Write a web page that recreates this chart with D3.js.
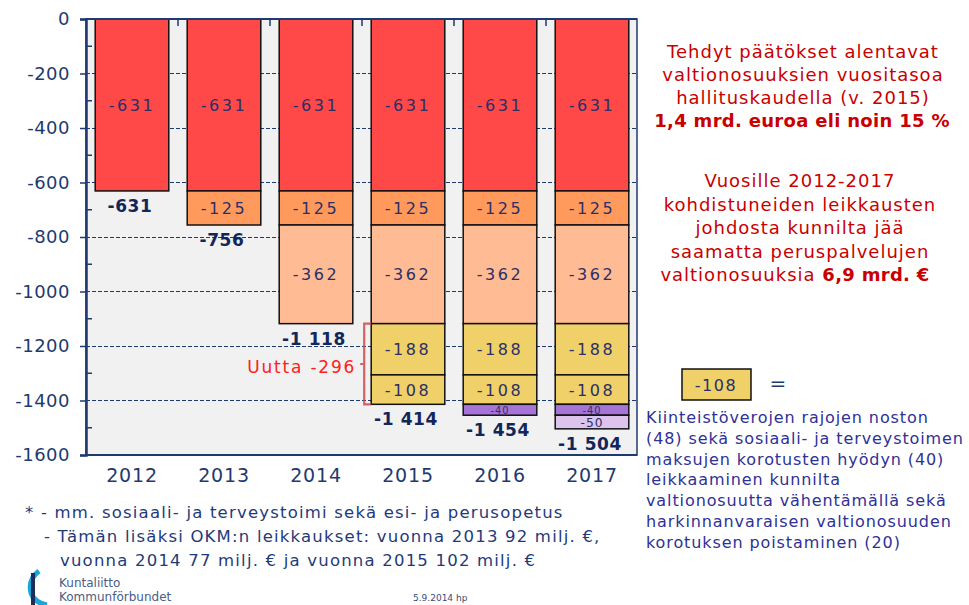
<!DOCTYPE html>
<html>
<head>
<meta charset="utf-8">
<script src="https://cdn.jsdelivr.net/npm/d3@7"></script>
<style>
  body { margin: 0; background: #fff; }
  svg { display: block; font-family: "DejaVu Sans", Verdana, sans-serif; }
</style>
</head>
<body>
<svg id="chart" width="969" height="605"></svg>
<script>
// categories
var years = ['2012', '2013', '2014', '2015', '2016', '2017'];

// stacked cut segments (milj. €), top to bottom
var cut631 = [-631, -631, -631, -631, -631, -631];
var cut125 = [0, -125, -125, -125, -125, -125];
var cut362 = [0, 0, -362, -362, -362, -362];
var cut188 = [0, 0, 0, -188, -188, -188];
var cut108 = [0, 0, 0, -108, -108, -108];
var cut40 = [0, 0, 0, 0, -40, -40];
var cut50 = [0, 0, 0, 0, 0, -50];

var seriesKeys = ['s631', 's125', 's362', 's188', 's108', 's40', 's50'];
var seriesColors = ['#ff4848', '#ff9a5c', '#ffbb94', '#f0d068', '#f0d068', '#a673d6', '#dcc4ec'];
var seriesValues = [cut631, cut125, cut362, cut188, cut108, cut40, cut50];

var yTicks = [0, -200, -400, -600, -800, -1000, -1200, -1400, -1600];
var minorTicks = [-100, -300, -500, -700, -900, -1100, -1300, -1500];

var newCutKeys = ['s188', 's108'];   // "Uutta" bracket
var newCutYear = '2015';

var rightNote1 = ['Tehdyt päätökset  alentavat', 'valtionosuuksien vuositasoa', 'hallituskaudella (v. 2015)'];
var rightNote1Bold = '1,4 mrd. euroa eli noin 15 %';
var rightNote2 = ['Vuosille 2012-2017', 'kohdistuneiden leikkausten', 'johdosta kunnilta jää', 'saamatta peruspalvelujen'];
var legendLines = ['Kiinteistöverojen rajojen noston', '(48) sekä sosiaali- ja terveystoimen',
  'maksujen korotusten hyödyn (40)', 'leikkaaminen kunnilta', 'valtionosuutta vähentämällä sekä',
  'harkinnanvaraisen valtionosuuden', 'korotuksen  poistaminen (20)'];
var footLines = ['* - mm. sosiaali- ja terveystoimi sekä esi- ja perusopetus',
  '- Tämän lisäksi  OKM:n leikkaukset: vuonna 2013 92 milj. €,',
  'vuonna 2014 77 milj. € ja vuonna 2015  102 milj. €'];

var navy = '#1f3a6e';

// table for d3.stack
var table = years.map(function (y, i) {
  var row = { year: y };
  seriesKeys.forEach(function (k, j) { row[k] = seriesValues[j][i]; });
  return row;
});

var fi = d3.formatLocale({ decimal: ',', thousands: ' ', grouping: [3], currency: ['', ' €'], minus: '-' });
var fmtAxis = fi.format('d');
var fmtTotal = fi.format(',d');

var svg = d3.select('#chart');

var plot = { left: 86, right: 637, top: 19, bottom: 455 };

var xScale = d3.scaleBand()
  .domain(years)
  .range([plot.left, plot.left + 552])
  .paddingInner(0.2)
  .paddingOuter(0.1);

var yScale = d3.scaleLinear()
  .domain([-1600, 0])
  .range([plot.bottom, plot.top]);

// plot background
svg.append('rect')
  .attr('x', plot.left)
  .attr('y', plot.top)
  .attr('width', plot.right - plot.left)
  .attr('height', plot.bottom - plot.top)
  .attr('fill', '#f1f1f1')
  .attr('stroke', navy)
  .attr('stroke-width', 1.5);

// dashed grids
svg.append('g').attr('class', 'yGrids')
  .selectAll('line')
  .data(yTicks.slice(1, -1))
  .join('line')
  .attr('x1', plot.left)
  .attr('x2', plot.right)
  .attr('y1', function (d) { return yScale(d); })
  .attr('y2', function (d) { return yScale(d); })
  .attr('stroke', navy)
  .attr('stroke-width', 1)
  .attr('stroke-dasharray', '4,2')
  .style('shape-rendering', 'crispEdges');

// small ticks between categories at top
var bandEdges = years.slice(1).map(function (y) { return xScale(y) - xScale.step() * xScale.paddingInner() / 2; });
svg.append('g')
  .selectAll('line')
  .data(bandEdges)
  .join('line')
  .attr('x1', function (d) { return d; })
  .attr('x2', function (d) { return d; })
  .attr('y1', plot.top)
  .attr('y2', plot.top + 7)
  .attr('stroke', navy)
  .attr('stroke-width', 1.5);

// stacked bars
var stack = d3.stack().keys(seriesKeys).offset(d3.stackOffsetDiverging);
var layers = stack(table);

var barGroup = svg.append('g').attr('class', 'bars');
layers.forEach(function (layer, li) {
  var segs = layer.filter(function (d) { return d[1] - d[0] !== 0; });
  var g = barGroup.append('g');
  g.selectAll('rect')
    .data(segs)
    .join('rect')
    .attr('x', function (d) { return xScale(d.data.year); })
    .attr('y', function (d) { return yScale(d[1]); })
    .attr('width', xScale.bandwidth())
    .attr('height', function (d) { return yScale(d[0]) - yScale(d[1]); })
    .attr('fill', seriesColors[li])
    .attr('stroke', '#111')
    .attr('stroke-width', 1.5);

  g.selectAll('text')
    .data(segs)
    .join('text')
    .attr('x', function (d) { return xScale(d.data.year) + xScale.bandwidth() / 2; })
    .attr('y', function (d) { return (yScale(d[0]) + yScale(d[1])) / 2 + 0.5; })
    .attr('text-anchor', 'middle')
    .attr('dominant-baseline', 'central')
    .attr('fill', '#2a2f66')
    .style('font-size', function (d) {
      var h = yScale(d[0]) - yScale(d[1]);
      return Math.min(16, h * 0.9) + 'px';
    })
    .style('letter-spacing', function (d) {
      var h = yScale(d[0]) - yScale(d[1]);
      return h > 16 ? '2.5px' : '1px';
    })
    .text(function (d) { return fmtAxis(d[0] - d[1]); });
});

// totals under bars
var totals = years.map(function (y, i) {
  return { year: y, value: d3.sum(seriesValues, function (s) { return s[i]; }) };
});
svg.append('g')
  .selectAll('text')
  .data(totals)
  .join('text')
  .attr('x', function (d) { return xScale(d.year) + xScale.bandwidth() / 2 - 2; })
  .attr('y', function (d) { return yScale(d.value) + 15; })
  .attr('text-anchor', 'middle')
  .attr('dominant-baseline', 'central')
  .attr('fill', '#13265a')
  .style('font-size', '17px')
  .style('font-weight', 'bold')
  .style('letter-spacing', '0.6px')
  .text(function (d) { return fmtTotal(d.value); });

// y axis
var yAxis = d3.axisLeft(yScale)
  .tickValues(yTicks)
  .tickFormat(fmtAxis)
  .tickSize(6)
  .tickPadding(10);
var yAxisG = svg.append('g')
  .attr('transform', 'translate(' + plot.left + ',0)')
  .call(yAxis);
yAxisG.select('.domain').attr('stroke', navy).attr('stroke-width', 2.5);
yAxisG.selectAll('.tick line').attr('stroke', navy).attr('stroke-width', 1.5);
yAxisG.selectAll('.tick text')
  .attr('fill', navy)
  .style('font-family', '"DejaVu Sans", sans-serif')
  .style('font-size', '18px')
  .style('letter-spacing', '0.5px');

// minor ticks pointing inward
svg.append('g')
  .selectAll('line')
  .data(minorTicks)
  .join('line')
  .attr('x1', plot.left)
  .attr('x2', plot.left + 6)
  .attr('y1', function (d) { return yScale(d); })
  .attr('y2', function (d) { return yScale(d); })
  .attr('stroke', navy)
  .attr('stroke-width', 1.5);

// bottom + top frame lines
svg.append('line')
  .attr('x1', plot.left).attr('x2', plot.right)
  .attr('y1', plot.bottom).attr('y2', plot.bottom)
  .attr('stroke', navy).attr('stroke-width', 2);
svg.append('line')
  .attr('x1', plot.left).attr('x2', plot.right)
  .attr('y1', plot.top).attr('y2', plot.top)
  .attr('stroke', navy).attr('stroke-width', 2);

// x axis labels
var xAxis = d3.axisBottom(xScale).tickSize(0).tickPadding(14);
var xAxisG = svg.append('g')
  .attr('transform', 'translate(0,' + plot.bottom + ')')
  .call(xAxis);
xAxisG.select('.domain').remove();
xAxisG.selectAll('.tick text')
  .attr('fill', navy)
  .style('font-family', '"DejaVu Sans", sans-serif')
  .style('font-size', '19px')
  .style('letter-spacing', '0.8px');

// "Uutta" bracket on 2015
var newLayers = layers.filter(function (l) { return newCutKeys.indexOf(l.key) >= 0; });
var yrIdx = years.indexOf(newCutYear);
var newTop = d3.max(newLayers, function (l) { return l[yrIdx][1]; });
var newBottom = d3.min(newLayers, function (l) { return l[yrIdx][0]; });
var newSum = d3.sum(newLayers, function (l) { return l[yrIdx][0] - l[yrIdx][1]; });
var bx = xScale(newCutYear) - 7;
var by1 = yScale(newTop), by2 = yScale(newBottom), bm = (by1 + by2) / 2;
svg.append('path')
  .attr('d', 'M' + (bx + 7) + ',' + by1 + 'H' + bx + 'V' + by2 + 'H' + (bx + 7) +
    'M' + (bx - 4) + ',' + bm + 'H' + bx)
  .attr('fill', 'none')
  .attr('stroke', '#d04848')
  .attr('stroke-width', 2.2)
  .style('opacity', 0.85);
svg.append('text')
  .attr('x', bx - 8)
  .attr('y', bm + 3)
  .attr('text-anchor', 'end')
  .attr('dominant-baseline', 'central')
  .attr('fill', '#ff2020')
  .style('font-size', '17px')
  .style('letter-spacing', '1.8px')
  .text('Uutta ' + fmtAxis(newSum));

// right side red notes
var noteG = svg.append('g')
  .attr('fill', '#c80000')
  .attr('text-anchor', 'middle')
  .style('font-size', '18px')
  .style('letter-spacing', '1px');
rightNote1.forEach(function (t, i) {
  noteG.append('text').attr('x', 803).attr('y', 58 + i * 23).text(t);
});
noteG.append('text').attr('x', 802).attr('y', 58 + 3 * 23)
  .style('font-weight', 'bold').style('letter-spacing', '0.3px').text(rightNote1Bold);
rightNote2.forEach(function (t, i) {
  noteG.append('text').attr('x', 800).attr('y', 187 + i * 23.5).text(t);
});
var last = noteG.append('text').attr('x', 795).attr('y', 187 + 4 * 23.5);
last.append('tspan').text('valtionosuuksia  ');
last.append('tspan').style('font-weight', 'bold').style('letter-spacing', '0.3px').text('6,9 mrd. €');

// legend box for -108
var legIdx = seriesKeys.indexOf('s108');
svg.append('rect')
  .attr('x', 682).attr('y', 369)
  .attr('width', 69).attr('height', 31)
  .attr('fill', seriesColors[legIdx])
  .attr('stroke', '#111')
  .attr('stroke-width', 1.5);
svg.append('text')
  .attr('x', 716).attr('y', 385)
  .attr('text-anchor', 'middle')
  .attr('dominant-baseline', 'central')
  .attr('fill', '#2a2f66')
  .style('font-size', '16px')
  .style('letter-spacing', '1.5px')
  .text(fmtAxis(cut108[yrIdx]));
svg.append('text')
  .attr('x', 778).attr('y', 383)
  .attr('text-anchor', 'middle')
  .attr('dominant-baseline', 'central')
  .attr('fill', navy)
  .style('font-size', '20px')
  .text('=');

var legG = svg.append('g')
  .attr('fill', '#2e3196')
  .style('font-size', '16px')
  .style('letter-spacing', '0.9px');
legendLines.forEach(function (t, i) {
  legG.append('text').attr('x', 646).attr('y', 423 + i * 20.8).text(t);
});

// footnotes
var footG = svg.append('g')
  .attr('fill', '#1f3a7a')
  .style('font-size', '16.5px')
  .style('letter-spacing', '1.2px');
footG.append('text').attr('x', 25).attr('y', 518).text(footLines[0]);
footG.append('text').attr('x', 44).attr('y', 542).text(footLines[1]);
footG.append('text').attr('x', 60).attr('y', 566).text(footLines[2]);

// logo
var logo = svg.append('g').attr('transform', 'translate(25,571)');
logo.append('path')
  .attr('d', 'M14,0 C6,6 4,14 6,22 C9,30 16,33 22,34')
  .attr('fill', 'none')
  .attr('stroke', '#1aa6d8')
  .attr('stroke-width', 5);
logo.append('rect')
  .attr('x', 6).attr('y', 2)
  .attr('width', 4).attr('height', 32)
  .attr('fill', '#1b2f5e');
logo.append('text')
  .attr('x', 34).attr('y', 16)
  .attr('fill', '#4b5c86')
  .style('font-size', '12px')
  .text('Kuntaliitto');
logo.append('text')
  .attr('x', 34).attr('y', 30)
  .attr('fill', '#4b5c86')
  .style('font-size', '12px')
  .text('Kommunförbundet');

svg.append('text')
  .attr('x', 413).attr('y', 601)
  .attr('fill', '#3a4a7a')
  .style('font-size', '9px')
  .text('5.9.2014 hp');
</script>
</body>
</html>
